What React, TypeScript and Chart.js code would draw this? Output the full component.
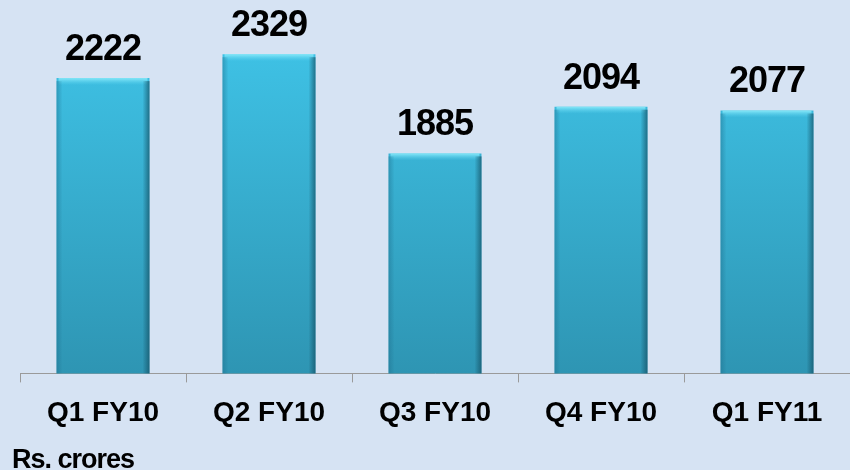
import React, { useEffect, useRef } from "react";
import { Chart, registerables } from "chart.js";

Chart.register(...registerables);

const categories = ["Q1 FY10", "Q2 FY10", "Q3 FY10", "Q4 FY10", "Q1 FY11"];
const revenue = [2222, 2329, 1885, 2094, 2077];
const unitLabel = "Rs. crores";

const FONT = "'Liberation Sans', Arial, sans-serif";

const decorPlugin = {
  id: "decor",
  afterDatasetsDraw(chart: any) {
    const ctx = chart.ctx;
    const meta = chart.getDatasetMeta(0);
    const bottom = chart.chartArea.bottom;
    ctx.save();
    meta.data.forEach((bar: any, i: number) => {
      const { x, y, width } = bar.getProps(["x", "y", "width"], true);
      const base = bottom;
      const left = x - width / 2;
      const right = x + width / 2;
      const tg = ctx.createLinearGradient(0, y, 0, y + 7);
      tg.addColorStop(0, "rgba(140,235,250,0.95)");
      tg.addColorStop(1, "rgba(90,210,240,0)");
      ctx.fillStyle = tg;
      ctx.fillRect(left + 2, y, width - 4, 7);
      const lg = ctx.createLinearGradient(left, 0, left + 6, 0);
      lg.addColorStop(0, "rgba(30,110,140,0.45)");
      lg.addColorStop(1, "rgba(30,110,140,0)");
      ctx.fillStyle = lg;
      ctx.fillRect(left, y + 3, 6, base - y - 3);
      const rg = ctx.createLinearGradient(right - 7, 0, right, 0);
      rg.addColorStop(0, "rgba(20,80,100,0)");
      rg.addColorStop(1, "rgba(20,80,100,0.7)");
      ctx.fillStyle = rg;
      ctx.fillRect(right - 7, y + 3, 7, base - y - 3);
      ctx.font = `bold 36px ${FONT}`;
      (ctx as any).letterSpacing = "-1px";
      ctx.fillStyle = "#000";
      ctx.textAlign = "center";
      ctx.textBaseline = "alphabetic";
      ctx.fillText(String(revenue[i]), x, y - 18);
    });
    (ctx as any).letterSpacing = "-1px";
    ctx.font = `bold 27px ${FONT}`;
    ctx.fillStyle = "#000";
    ctx.textAlign = "left";
    ctx.textBaseline = "alphabetic";
    ctx.fillText(unitLabel, 12, 468);
    ctx.restore();
  },
};

export default function App() {
  const ref = useRef<HTMLCanvasElement | null>(null);
  useEffect(() => {
    if (!ref.current) return;
    const chart = new Chart(ref.current, {
      type: "bar",
      data: {
        labels: categories,
        datasets: [
          {
            data: revenue,
            barPercentage: 0.56,
            categoryPercentage: 1,
            backgroundColor: (c: any) => {
              const area = c.chart.chartArea;
              if (!area) return "#38b5d8";
              const g = c.chart.ctx.createLinearGradient(0, area.top, 0, area.bottom);
              g.addColorStop(0, "#40c6ea");
              g.addColorStop(1, "#2e95b3");
              return g;
            },
            borderWidth: 0,
          },
        ],
      },
      options: {
        animation: false,
        responsive: false,
        maintainAspectRatio: false,
        layout: { padding: { top: 16, left: 20, right: 0, bottom: 26 } },
        plugins: { legend: { display: false }, tooltip: { enabled: false } },
        scales: {
          y: { display: false, min: 900, max: 2500 },
          x: {
            offset: true,
            grid: {
              display: true,
              drawOnChartArea: false,
              tickLength: 9,
              color: "#9a9a9a",
              offset: true,
            },
            border: { display: true, color: "#9a9a9a", width: 1 },
            ticks: {
              color: "#000",
              padding: 14,
              font: { family: FONT, size: 28, weight: "bold" },
            },
          },
        },
      },
      plugins: [decorPlugin],
    });
    return () => chart.destroy();
  }, []);
  return (
    <div style={{ position: "absolute", left: 0, top: 0, width: 850, height: 470, background: "#d6e3f3" }}>
      <canvas ref={ref} width={850} height={470} style={{ display: "block" }} />
    </div>
  );
}
